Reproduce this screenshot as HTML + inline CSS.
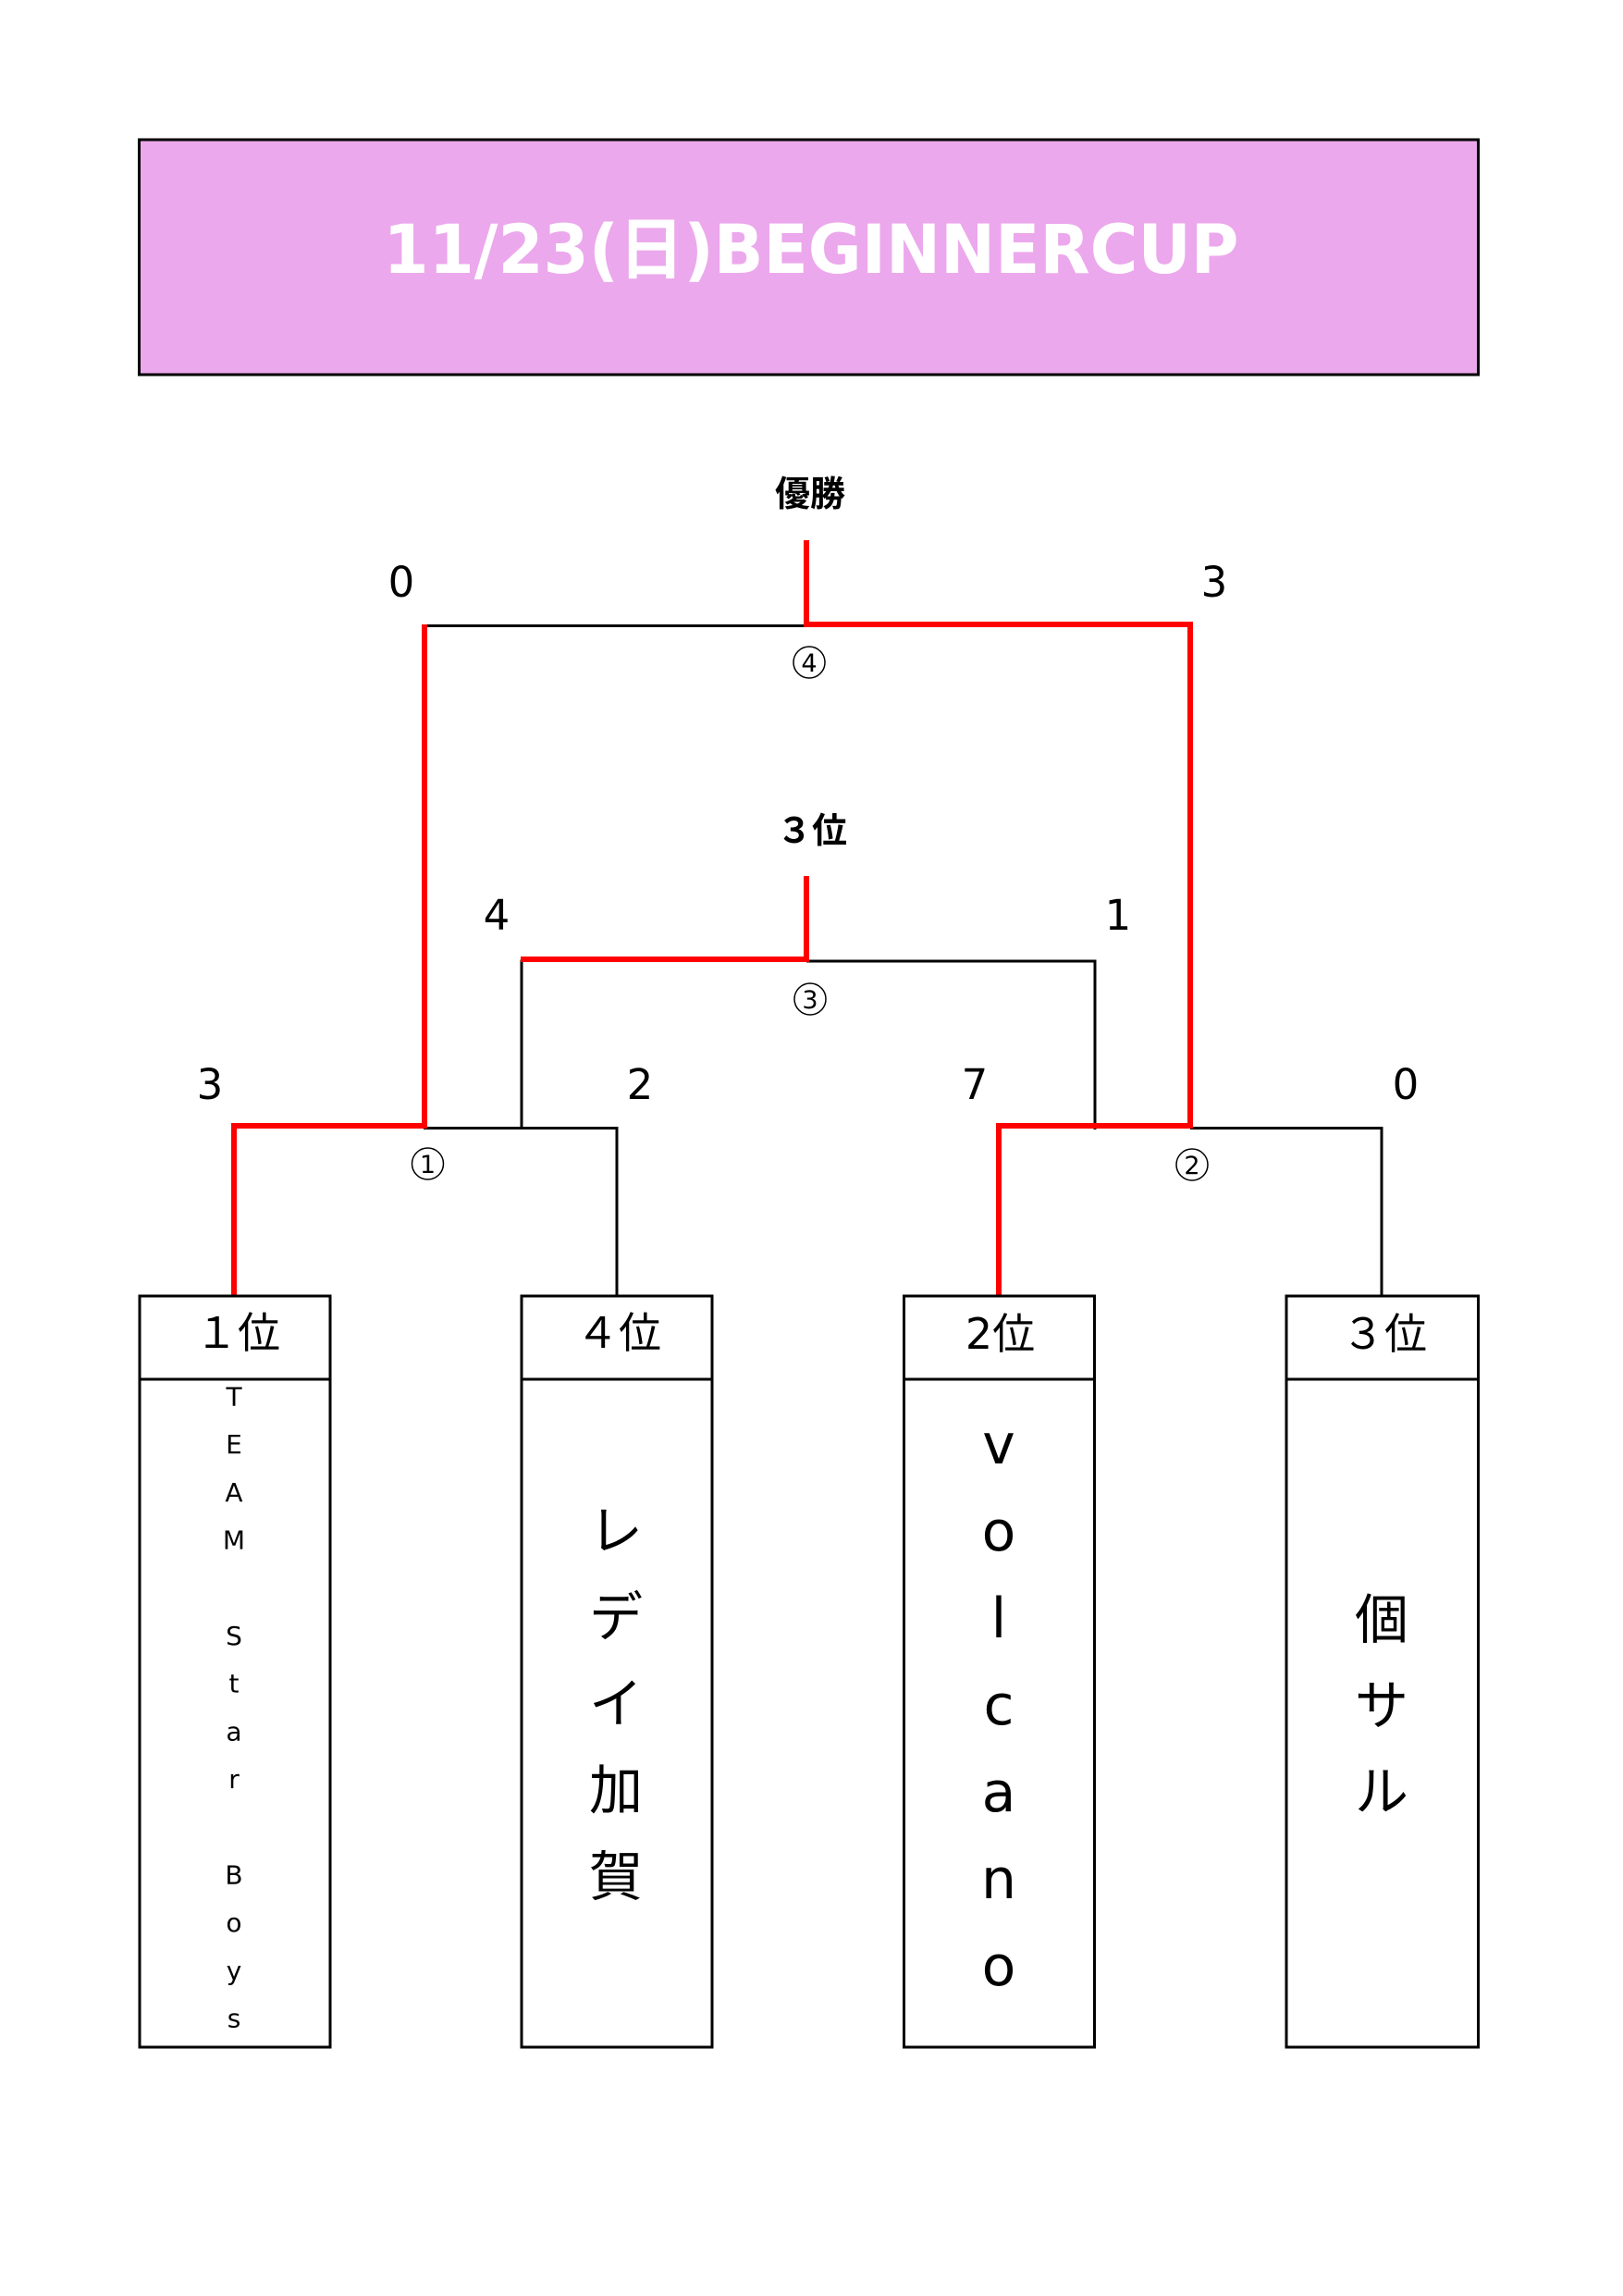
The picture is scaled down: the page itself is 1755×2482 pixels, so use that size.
<!DOCTYPE html>
<html>
<head>
<meta charset="utf-8">
<style>
  html, body { margin: 0; padding: 0; background: #ffffff; }
  body { width: 1755px; height: 2482px; overflow: hidden; }
  svg { display: block; }
  .lat { font-family: "DejaVu Sans", "Noto Sans CJK JP", sans-serif; }
  .cjk { font-family: "Noto Sans CJK JP", "DejaVu Sans", sans-serif; }
</style>
</head>
<body>
<svg width="1755" height="2482" viewBox="0 0 1755 2482" xmlns="http://www.w3.org/2000/svg">
  <rect x="0" y="0" width="1755" height="2482" fill="#ffffff"/>

  <!-- Title box -->
  <rect x="150.5" y="151" width="1448" height="254" fill="#ECA8EC" stroke="#000" stroke-width="3"/>
  <text x="877" y="295" text-anchor="middle" class="lat" font-size="73" font-weight="bold" fill="#ffffff" textLength="925" lengthAdjust="spacingAndGlyphs">11/23(日)BEGINNERCUP</text>

  <!-- Labels -->
  <text x="876" y="547" text-anchor="middle" class="cjk" font-size="38" font-weight="bold" fill="#000">優勝</text>
  <text x="878" y="911" text-anchor="middle" class="cjk" font-size="38" font-weight="bold" fill="#000">３位</text>

  <!-- Scores -->
  <g class="lat" font-size="45" fill="#000" text-anchor="middle">
    <text x="434" y="645">0</text>
    <text x="1313" y="645">3</text>
    <text x="537" y="1005">4</text>
    <text x="1209" y="1005">1</text>
    <text x="227" y="1188">3</text>
    <text x="692" y="1188">2</text>
    <text x="1054" y="1188">7</text>
    <text x="1520" y="1188">0</text>
  </g>

  <!-- Black bracket lines (3px) -->
  <g fill="#000">
    <rect x="458" y="675" width="415" height="3"/>
    <rect x="872" y="1037.5" width="313.5" height="3"/>
    <rect x="562.5" y="1037.5" width="3" height="183.5"/>
    <rect x="1182.5" y="1037.5" width="3" height="183.5"/>
    <rect x="458" y="1218" width="210.5" height="3"/>
    <rect x="665.5" y="1218" width="3" height="183"/>
    <rect x="1287" y="1218" width="208.5" height="3"/>
    <rect x="1492.5" y="1218" width="3" height="183"/>
  </g>

  <!-- Red winning path lines (6px) -->
  <g fill="#FF0000">
    <rect x="869" y="584" width="6" height="94"/>
    <rect x="869" y="672" width="421" height="6"/>
    <rect x="1284" y="672" width="6" height="548"/>
    <rect x="1077" y="1214" width="213" height="6"/>
    <rect x="1077" y="1214" width="6" height="187"/>
    <rect x="456" y="675" width="6" height="545"/>
    <rect x="250" y="1214" width="212" height="6"/>
    <rect x="250" y="1214" width="6" height="187"/>
    <rect x="869" y="947" width="6" height="93"/>
    <rect x="563" y="1034" width="312" height="6"/>
  </g>

  <!-- Circled match numbers -->
  <g fill="none" stroke="#000" stroke-width="1.5">
    <circle cx="875" cy="716" r="17"/>
    <circle cx="876" cy="1080" r="17"/>
    <circle cx="462.5" cy="1258" r="17"/>
    <circle cx="1289" cy="1259" r="17"/>
  </g>
  <g class="lat" font-size="27" fill="#000" text-anchor="middle">
    <text x="875" y="726">4</text>
    <text x="876" y="1090">3</text>
    <text x="462.5" y="1268">1</text>
    <text x="1289" y="1269">2</text>
  </g>

  <!-- Team boxes -->
  <g fill="#ffffff" stroke="#000" stroke-width="3">
    <rect x="151" y="1401" width="206" height="812"/>
    <rect x="564" y="1401" width="206" height="812"/>
    <rect x="977.5" y="1401" width="206" height="812"/>
    <rect x="1391" y="1401" width="207.5" height="812"/>
  </g>
  <g fill="#000">
    <rect x="151" y="1489.5" width="206" height="3"/>
    <rect x="564" y="1489.5" width="206" height="3"/>
    <rect x="977.5" y="1489.5" width="206" height="3"/>
    <rect x="1391" y="1489.5" width="207.5" height="3"/>
  </g>

  <!-- Header labels -->
  <g font-size="46" fill="#000" text-anchor="middle">
    <text x="257" y="1457" class="cjk">１位</text>
    <text x="669" y="1457" class="cjk">４位</text>
    <text x="1081.5" y="1458" class="lat">2位</text>
    <text x="1497" y="1458" class="cjk">３位</text>
  </g>

  <!-- Team 1: TEAM Star Boys (vertical) -->
  <g class="lat" font-size="28" fill="#000" text-anchor="middle">
    <text x="253" y="1519.5">T</text>
    <text x="253" y="1571.2">E</text>
    <text x="253" y="1622.9">A</text>
    <text x="253" y="1674.6">M</text>
    <text x="253" y="1778">S</text>
    <text x="253" y="1829.7">t</text>
    <text x="253" y="1881.4">a</text>
    <text x="253" y="1933.1">r</text>
    <text x="253" y="2036.5">B</text>
    <text x="253" y="2088.2">o</text>
    <text x="253" y="2139.9">y</text>
    <text x="253" y="2191.6">s</text>
  </g>

  <!-- Team 2: レディ加賀 -->
  <g class="cjk" font-size="58" fill="#000" text-anchor="middle">
    <text x="666" y="1675">レ</text>
    <text x="666" y="1768.5">デ</text>
    <text x="666" y="1862">イ</text>
    <text x="666" y="1955.5">加</text>
    <text x="666" y="2049">賀</text>
  </g>

  <!-- Team 3: volcano -->
  <g class="lat" font-size="60" fill="#000" text-anchor="middle">
    <text x="1080" y="1582">v</text>
    <text x="1080" y="1676">o</text>
    <text x="1080" y="1770">l</text>
    <text x="1080" y="1864">c</text>
    <text x="1080" y="1958">a</text>
    <text x="1080" y="2052">n</text>
    <text x="1080" y="2146">o</text>
  </g>

  <!-- Team 4: 個サル -->
  <g class="cjk" font-size="58" fill="#000" text-anchor="middle">
    <text x="1494" y="1771">個</text>
    <text x="1494" y="1864">サ</text>
    <text x="1494" y="1957">ル</text>
  </g>
</svg>
</body>
</html>
